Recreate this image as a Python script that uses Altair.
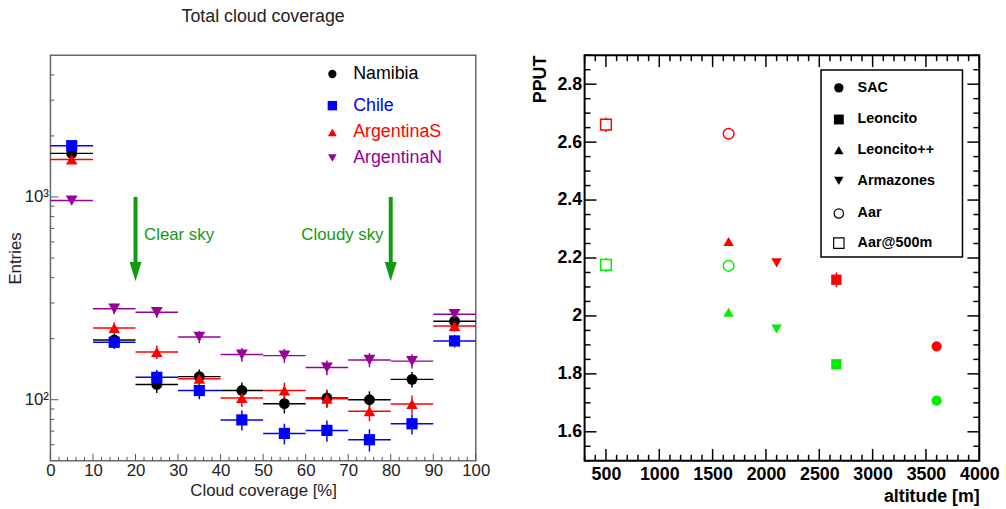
import altair as alt
import pandas as pd

FONT = "Liberation Sans"

# ---------------- Left panel data (Total cloud coverage) ----------------
bins = [5, 15, 25, 35, 45, 55, 65, 75, 85, 95]
half_bin = 5
series_names = ["Namibia", "Chile", "ArgentinaS", "ArgentinaN"]
series_colors = ["#000000", "#0000ff", "#ff0000", "#990099"]
series_shapes = ["circle", "square", "triangle-up", "triangle-down"]
series_sizes = [120, 144, 128, 118]

namibia = [1640, 197, 119, 130, 111, 95.6, 102, 100, 126, 244]
chile = [1790, 192, 129, 111, 79.5, 68.2, 70.6, 63.5, 76.1, 195]
argentinaS = [1530, 226, 172, 127, 102, 111, 101, 87.7, 95.2, 231]
argentinaN = [960, 281, 270, 204, 167, 165, 144, 157, 155, 264]

namibia_err = [40, 14, 11, 11, 10.5, 10, 10, 10, 11, 16]
chile_err = [42, 14, 11, 10.5, 9, 8, 8.5, 8, 8.7, 14]
argentinaS_err = [39, 15, 13, 11, 10, 10.5, 10, 9.4, 9.8, 15]
argentinaN_err = [31, 17, 16, 14, 13, 13, 12, 12.5, 12.5, 16]

left_values = [namibia, chile, argentinaS, argentinaN]
left_errs = [namibia_err, chile_err, argentinaS_err, argentinaN_err]

arrow_x = [20, 80]
arrow_top = [1000, 1000]
arrow_bottom = [455, 455]
arrow_head = [428, 428]
annot_text = ["Clear sky", "Cloudy sky"]
annot_x = [22, 78.3]
annot_y = [648, 648]
annot_align = ["left", "right"]

x_major_left = list(range(0, 101, 10))
x_minor_left = [v for v in range(2, 100, 2) if v % 10 != 0]
y_major_left = [100, 1000]
y_minor_left = [60, 70, 80, 90, 200, 300, 400, 500, 600, 700, 800, 900, 2000, 3000, 4000]

# ---------------- Right panel data (PPUT vs altitude) ----------------
sites = ["SAC", "Leoncito", "Leoncito++", "Armazones", "Aar", "Aar@500m"]
site_shapes = ["circle", "square", "triangle-up", "triangle-down", "circle", "square"]
site_filled = [True, True, True, True, False, False]
site_sizes = [107, 118, 100, 100, 95, 121]
altitudes = [3600, 2660, 1650, 2100, 1650, 500]
pput_red = [1.895, 2.125, 2.257, 2.183, 2.629, 2.660]
pput_red_err = [0.010, 0.025, 0.010, 0.010, 0.020, 0.025]
pput_green = [1.708, 1.833, 2.013, 1.955, 2.173, 2.176]
pput_green_err = [0.010, 0.015, 0.010, 0.010, 0.010, 0.025]
band_names = ["red", "green"]
band_colors = ["#ff0000", "#00ee00"]

x_major_right = list(range(500, 4001, 500))
x_minor_right = [v for v in range(300, 4001, 100) if v % 500 != 0]
y_major_right = [1.6, 1.8, 2.0, 2.2, 2.4, 2.6, 2.8]
y_minor_right = [1.5, 1.55, 1.65, 1.7, 1.75, 1.85, 1.9, 1.95, 2.05, 2.1, 2.15, 2.25, 2.3,
                 2.35, 2.45, 2.5, 2.55, 2.65, 2.7, 2.75, 2.85, 2.9]

# ---------------- sizes ----------------
W1, H1 = 430, 410
W2, H2 = 399, 410

# ---------------- Left chart ----------------
rows = []
for name, vals, errs in zip(series_names, left_values, left_errs):
    for b, v, e in zip(bins, vals, errs):
        rows.append(dict(series=name, bin=b, x0=b - half_bin, x1=b + half_bin,
                         value=v, lo=v - e, hi=v + e))
ldf = pd.DataFrame(rows)

XS1 = alt.Scale(domain=[0, 100], nice=False, zero=False)
YS1 = alt.Scale(type="log", domain=[50, 5000], nice=False)
XA1 = alt.Axis(values=x_major_left, ticks=False, domain=False, grid=False,
               labelFlush=False, labelOverlap=False,
               labelFont=FONT, labelFontSize=17, labelColor="#222222", labelPadding=2,
               title="Cloud coverage [%]", titleFont=FONT, titleFontSize=17,
               titleFontWeight="normal", titleColor="#222222", titlePadding=4)
YA1 = alt.Axis(values=y_major_left, labelExpr="datum.value == 100 ? '10²' : '10³'",
               ticks=False, domain=False, grid=False, labelFont=FONT, labelFontSize=17,
               labelColor="#222222", labelPadding=2, labelFlush=False, labelOverlap=False,
               title="Entries", titleFont=FONT, titleFontSize=17, titleFontWeight="normal",
               titleColor="#222222", titlePadding=0)
col1 = alt.Color("series:N", scale=alt.Scale(domain=series_names, range=series_colors), legend=None)
shp1 = alt.Shape("series:N", scale=alt.Scale(domain=series_names, range=series_shapes), legend=None)
siz1 = alt.Size("series:N", scale=alt.Scale(domain=series_names, range=series_sizes), legend=None)

base_l = alt.Chart(ldf)
hbars = base_l.mark_rule(strokeWidth=1.5).encode(
    x=alt.X("x0:Q", scale=XS1, axis=XA1), x2="x1:Q",
    y=alt.Y("value:Q", scale=YS1, axis=YA1), color=col1)
vbars = base_l.mark_rule(strokeWidth=1.5).encode(
    x=alt.X("bin:Q", scale=XS1, axis=XA1),
    y=alt.Y("lo:Q", scale=YS1, axis=YA1), y2="hi:Q", color=col1)
pts = base_l.mark_point(filled=True, opacity=1).encode(
    x=alt.X("bin:Q", scale=XS1, axis=XA1),
    y=alt.Y("value:Q", scale=YS1, axis=YA1), color=col1, shape=shp1, size=siz1)

adf = pd.DataFrame(dict(x=arrow_x, top=arrow_top, bottom=arrow_bottom, head=arrow_head))
GREEN = "#119911"
arrow_lines = alt.Chart(adf).mark_rule(strokeWidth=4, color=GREEN).encode(
    x=alt.X("x:Q", scale=XS1, axis=XA1),
    y=alt.Y("top:Q", scale=YS1, axis=YA1), y2="bottom:Q")
arrow_heads = alt.Chart(adf).mark_point(filled=True, opacity=1, color=GREEN,
                                         shape="M-0.62,-1L0.62,-1L0,1Z", size=380).encode(
    x=alt.X("x:Q", scale=XS1, axis=XA1),
    y=alt.Y("head:Q", scale=YS1, axis=YA1))

annots = []
for t, xv, yv, al in zip(annot_text, annot_x, annot_y, annot_align):
    annots.append(alt.Chart(pd.DataFrame(dict(t=[t], x=[xv], y=[yv]))).mark_text(
        font=FONT, fontSize=17, color=GREEN, align=al, baseline="middle").encode(
        x=alt.X("x:Q", scale=XS1, axis=XA1), y=alt.Y("y:Q", scale=YS1, axis=YA1), text="t:N"))

TICKC1 = "#555555"
xmaj1 = alt.Chart(pd.DataFrame(dict(v=x_major_left))).mark_rule(color=TICKC1, strokeWidth=1).encode(
    x=alt.X("v:Q", scale=XS1, axis=XA1), y=alt.value(H1), y2=alt.value(H1 - 7))
xmin1 = alt.Chart(pd.DataFrame(dict(v=x_minor_left))).mark_rule(color=TICKC1, strokeWidth=1).encode(
    x=alt.X("v:Q", scale=XS1, axis=XA1), y=alt.value(H1), y2=alt.value(H1 - 4))
ymaj1 = alt.Chart(pd.DataFrame(dict(v=y_major_left))).mark_rule(color=TICKC1, strokeWidth=1).encode(
    y=alt.Y("v:Q", scale=YS1, axis=YA1), x=alt.value(0), x2=alt.value(8))
ymin1 = alt.Chart(pd.DataFrame(dict(v=y_minor_left))).mark_rule(color=TICKC1, strokeWidth=1).encode(
    y=alt.Y("v:Q", scale=YS1, axis=YA1), x=alt.value(0), x2=alt.value(4))

# left legend
leg1 = []
leg1_y = [19, 51, 78, 104]
leg1_sizes = [70, 90, 80, 75]
for name, c, s, yy, sz in zip(series_names, series_colors, series_shapes, leg1_y, leg1_sizes):
    one = pd.DataFrame(dict(t=[name]))
    leg1.append(alt.Chart(one).mark_point(filled=True, opacity=1, color=c, shape=s, size=sz).encode(
        x=alt.value(285), y=alt.value(yy)))
    leg1.append(alt.Chart(one).mark_text(font=FONT, fontSize=18, color=c, align="left",
                                         baseline="middle").encode(
        x=alt.value(306), y=alt.value(yy), text="t:N"))

left = alt.layer(xmaj1, xmin1, ymaj1, ymin1, hbars, vbars, pts, arrow_lines, arrow_heads,
                 *annots, *leg1).properties(
    width=W1, height=H1,
    title=alt.TitleParams("Total cloud coverage", font=FONT, fontSize=18, fontWeight="normal",
                          color="#222222", offset=30, anchor="middle"),
    view=alt.ViewBackground(stroke="#666666", strokeWidth=1.5))

# ---------------- Right chart ----------------
rrows = []
for i, s in enumerate(sites):
    for band, vals, errs in (("red", pput_red, pput_red_err), ("green", pput_green, pput_green_err)):
        rrows.append(dict(site=s, band=band, alt=altitudes[i], value=vals[i],
                          lo=vals[i] - errs[i], hi=vals[i] + errs[i], filled=site_filled[i]))
rdf = pd.DataFrame(rrows)

XS2 = alt.Scale(domain=[300, 4000], nice=False, zero=False)
YS2 = alt.Scale(domain=[1.5, 2.9], nice=False, zero=False)
XA2 = alt.Axis(values=x_major_right, format="d", ticks=False, domain=False, grid=False,
               labelFlush=False, labelOverlap=False,
               labelFont=FONT, labelFontSize=18, labelFontWeight="bold", labelColor="#000000",
               labelPadding=5, title="altitude [m]", titleFont=FONT, titleFontSize=18,
               titleFontWeight="bold", titleColor="#000000", titleAnchor="end", titlePadding=4)
YA2 = alt.Axis(values=y_major_right, labelExpr="'' + round(datum.value * 10) / 10",
               ticks=False, domain=False, grid=False, labelFont=FONT, labelFontSize=18,
               labelFlush=False, labelOverlap=False,
               labelFontWeight="bold", labelColor="#000000", labelPadding=3,
               title="PPUT", titleFont=FONT, titleFontSize=18, titleFontWeight="bold",
               titleColor="#000000", titleAnchor="end", titlePadding=8)
col2 = alt.Color("band:N", scale=alt.Scale(domain=band_names, range=band_colors), legend=None)
shp2 = alt.Shape("site:N", scale=alt.Scale(domain=sites, range=site_shapes), legend=None)
siz2 = alt.Size("site:N", scale=alt.Scale(domain=sites, range=site_sizes), legend=None)

base_r = alt.Chart(rdf)
rerr = base_r.mark_rule(strokeWidth=1.5).encode(
    x=alt.X("alt:Q", scale=XS2, axis=XA2),
    y=alt.Y("lo:Q", scale=YS2, axis=YA2), y2="hi:Q", color=col2)
rfill = base_r.transform_filter("datum.filled").mark_point(filled=True, opacity=1).encode(
    x=alt.X("alt:Q", scale=XS2, axis=XA2), y=alt.Y("value:Q", scale=YS2, axis=YA2),
    color=col2, shape=shp2, size=siz2)
ropen = base_r.transform_filter("!datum.filled").mark_point(filled=False, opacity=1,
                                                          strokeWidth=1.5, fill="white").encode(
    x=alt.X("alt:Q", scale=XS2, axis=XA2), y=alt.Y("value:Q", scale=YS2, axis=YA2),
    color=col2, shape=shp2, size=siz2)

TK = "#000000"
def xticks(vals, length):
    d = pd.DataFrame(dict(v=vals))
    b = alt.Chart(d).mark_rule(color=TK, strokeWidth=1.5)
    return [b.encode(x=alt.X("v:Q", scale=XS2, axis=XA2), y=alt.value(H2), y2=alt.value(H2 - length)),
            b.encode(x=alt.X("v:Q", scale=XS2, axis=XA2), y=alt.value(0), y2=alt.value(length))]

def yticks(vals, length):
    d = pd.DataFrame(dict(v=vals))
    b = alt.Chart(d).mark_rule(color=TK, strokeWidth=1.5)
    return [b.encode(y=alt.Y("v:Q", scale=YS2, axis=YA2), x=alt.value(0), x2=alt.value(length)),
            b.encode(y=alt.Y("v:Q", scale=YS2, axis=YA2), x=alt.value(W2), x2=alt.value(W2 - length))]

rticks = xticks(x_major_right, 12) + xticks(x_minor_right, 6) + yticks(y_major_right, 12) + yticks(y_minor_right, 6)

# right legend
legbox = alt.Chart(pd.DataFrame(dict(a=[0]))).mark_rect(fill="white", stroke="black",
                                                       strokeWidth=1.5).encode(
    x=alt.value(239), x2=alt.value(382), y=alt.value(15), y2=alt.value(204))
leg2 = [legbox]
leg2_y = [33, 65, 96, 127, 160, 190]
leg2_sizes = [90, 100, 90, 90, 90, 110]
for s, shp, fl, yy, sz in zip(sites, site_shapes, site_filled, leg2_y, leg2_sizes):
    one = pd.DataFrame(dict(t=[s]))
    leg2.append(alt.Chart(one).mark_point(filled=fl, opacity=1, color="black", shape=shp, size=sz,
                                          strokeWidth=1.2).encode(
        x=alt.value(257), y=alt.value(yy)))
    leg2.append(alt.Chart(one).mark_text(font=FONT, fontSize=14.5, fontWeight="bold", color="black",
                                         align="left", baseline="middle").encode(
        x=alt.value(276), y=alt.value(yy), text="t:N"))

right = alt.layer(*rticks, rerr, rfill, ropen, *leg2).properties(
    width=W2, height=H2,
    view=alt.ViewBackground(stroke="#000000", strokeWidth=2))

chart = alt.hconcat(left, right, spacing=110, bounds="flush").resolve_scale(
    color="independent", shape="independent", size="independent", x="independent",
    y="independent").properties(
    padding={"left": 5, "top": 4, "right": 5, "bottom": 5}
).configure(font=FONT).configure_view(fill="white")

chart.save("out.html", embed_options={"renderer": "svg", "actions": False})
